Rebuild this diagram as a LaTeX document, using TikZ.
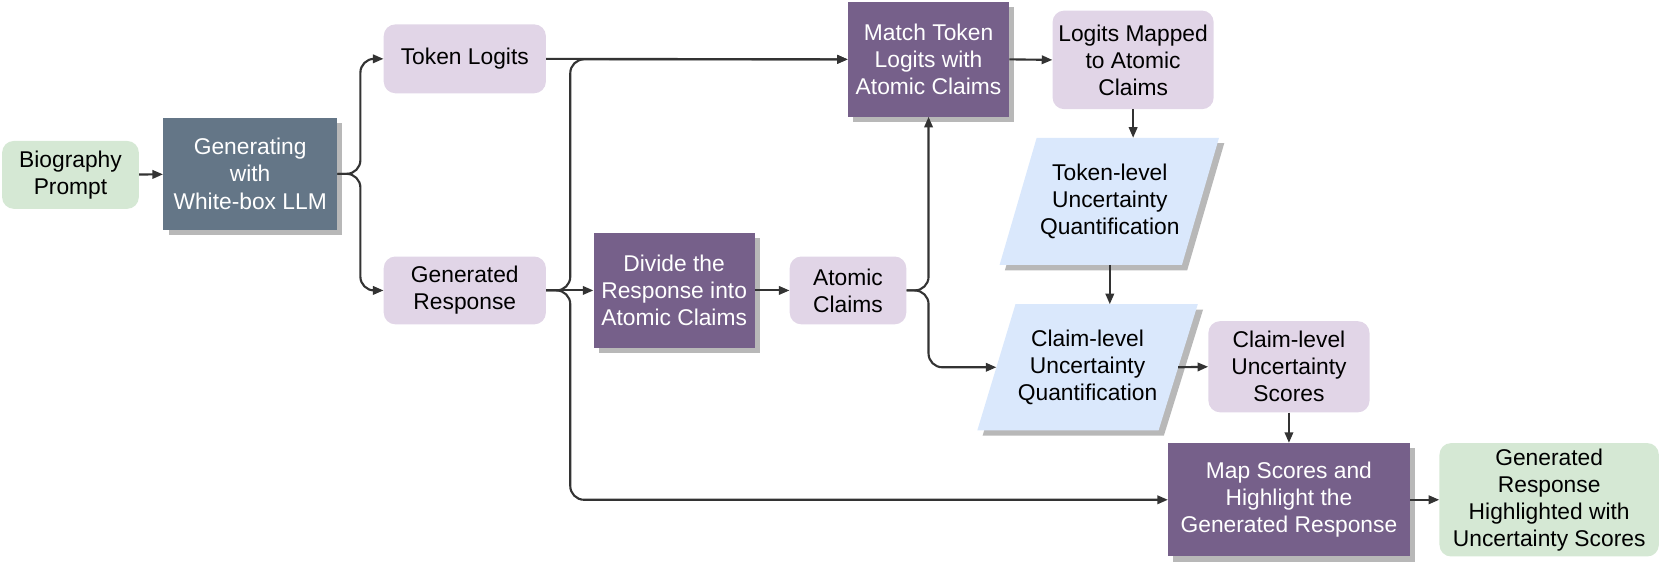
\documentclass[tikz,border=0pt]{standalone}
\usepackage{fontspec}
\setmainfont{Liberation Sans}
\usetikzlibrary{arrows.meta,shadows}
\definecolor{lgreen}{HTML}{D5E8D4}
\definecolor{lpurple}{HTML}{E1D5E7}
\definecolor{slate}{HTML}{647687}
\definecolor{dpurple}{HTML}{76608A}
\definecolor{lblue}{HTML}{DAE8FC}
\definecolor{linec}{HTML}{333333}
\definecolor{shadowc}{HTML}{B8B8B8}
\tikzset{
  base/.style={align=center, font=\fontsize{21.5}{25.5}\selectfont, inner sep=0pt, text=black},
  soft/.style={base, rectangle, rounded corners=11pt, fill=lpurple},
  greenbox/.style={base, rectangle, rounded corners=11pt, fill=lgreen},
  procbox/.style={base, rectangle, fill=dpurple, text=white,
     drop shadow={shadow xshift=5pt, shadow yshift=-5pt, fill=shadowc, opacity=1}},
  genbox/.style={procbox, fill=slate},
  conn/.style={draw=linec, line width=2pt, rounded corners=13pt,
     -{Triangle[length=10pt,width=8pt]}},
  plainline/.style={draw=linec, line width=2pt, rounded corners=13pt},
}
\begin{document}
\begin{tikzpicture}[x=1pt,y=-1pt]
\useasboundingbox (0,0) rectangle (1567,540.5);
% parallelograms
\fill[shadowc] (983,135) -- (1155,135) -- (1120,255) -- (948,255) -- cycle;
\fill[lblue] (978,130) -- (1150,130) -- (1115,250) -- (943,250) -- cycle;
\fill[shadowc] (963,292) -- (1135,292) -- (1098,411) -- (927,411) -- cycle;
\fill[lblue] (958,287) -- (1130,287) -- (1093,406) -- (922,406) -- cycle;
\node[base] (tuq) at (1047,190) {Token-level\\Uncertainty\\Quantification};
\node[base] (cuq) at (1026,346.5) {Claim-level\\Uncertainty\\Quantification};
\coordinate (tuqT) at (1069,130);
\coordinate (tuqB) at (1047,250);
\coordinate (cuqT) at (1047,287);
\coordinate (cuqL) at (940,346.5);
\coordinate (cuqR) at (1111.5,346.5);
% nodes
\node[greenbox, minimum width=129pt, minimum height=64pt] (bio) at (66.5,165) {Biography\\Prompt};
\node[genbox, minimum width=164pt, minimum height=106pt] (gen) at (236,164) {Generating\\with\\White-box LLM};
\node[soft, minimum width=153pt, minimum height=65pt] (tok) at (438.5,55.5) {Token Logits};
\node[soft, minimum width=153pt, minimum height=64pt] (gres) at (438.5,274) {Generated\\Response};
\node[procbox, minimum width=152pt, minimum height=108pt] (div) at (636,274) {Divide the\\Response into\\Atomic Claims};
\node[soft, minimum width=110pt, minimum height=64pt] (atom) at (800,274) {Atomic\\Claims};
\node[procbox, minimum width=152pt, minimum height=108pt] (match) at (876,56) {Match Token\\Logits with\\Atomic Claims};
\node[soft, minimum width=152pt, minimum height=93pt] (lmap) at (1069,56.5) {Logits Mapped\\to Atomic\\Claims};
\node[soft, minimum width=152pt, minimum height=86pt] (cscore) at (1216,346) {Claim-level\\Uncertainty\\Scores};
\node[procbox, minimum width=228pt, minimum height=107pt] (mapsc) at (1216,471.5) {Map Scores and\\Highlight the\\Generated Response};
\node[greenbox, minimum width=207pt, minimum height=107pt] (final) at (1461.5,471.5) {Generated\\Response\\Highlighted with\\Uncertainty Scores};
% junctions
\coordinate (j1) at (340,164);
\coordinate (j2) at (538,274);
\coordinate (j3) at (876,274);
% connectors
\draw[conn] (bio) -- (gen);
\draw[conn] (gen.east) -- (j1) |- (tok.west);
\draw[conn] (gen.east) -- (j1) |- (gres.west);
\draw[conn] (tok.east) -- (match.west);
\draw[conn] (gres.east) -- (div.west);
\draw[conn] (gres.east) -- (j2) |- (match.west);
\draw[conn] (gres.east) -- (j2) |- (mapsc.west);
\draw[conn] (div.east) -- (atom.west);
\draw[conn] (atom.east) -- (j3) -- (match.south);
\draw[conn] (atom.east) -- (j3) |- (cuqL);
\draw[conn] (match.east) -- (lmap.west);
\draw[conn] (lmap.south) -- (tuqT);
\draw[conn] (tuqB) -- (cuqT);
\draw[conn] (cuqR) -- (cscore.west);
\draw[conn] (cscore.south) -- (mapsc.north);
\draw[conn] (mapsc.east) -- (final.west);
\end{tikzpicture}
\end{document}
